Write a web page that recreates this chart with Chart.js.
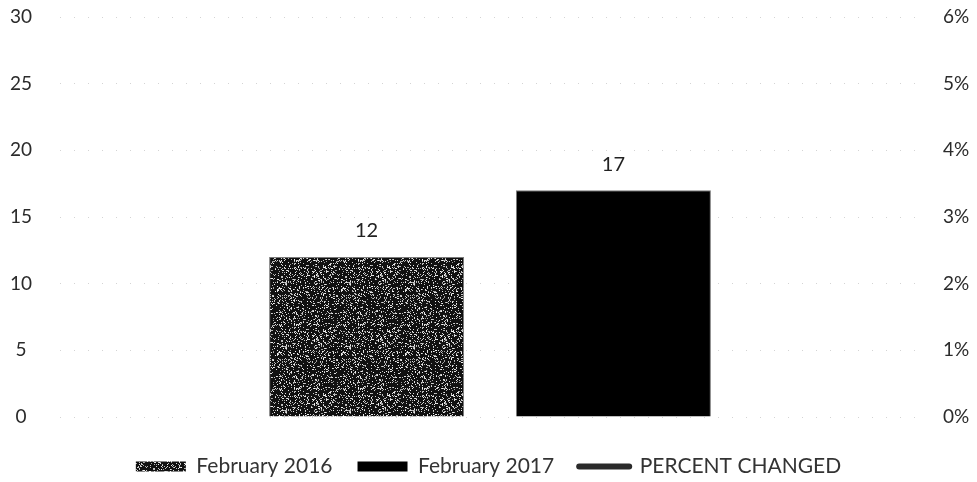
<!DOCTYPE html>
<html>
<head>
<meta charset="utf-8">
<script src="https://cdn.jsdelivr.net/npm/chart.js@4"></script>
<style>
  html, body { margin: 0; padding: 0; background: #fff; }
  #wrap { width: 977px; height: 482px; }
</style>
</head>
<body>
<div id="wrap"><canvas id="chart" width="977" height="482"></canvas></div>
<script>
const categories = ["February"];
const feb2016 = [12];
const feb2017 = [17];
const percentChanged = [null];
const countTicks = [0, 5, 10, 15, 20, 25, 30];
const percentTicks = ["0%", "1%", "2%", "3%", "4%", "5%", "6%"];

const FONT = "Lato, 'Open Sans', sans-serif";

// grainy fill for the 2016 bar: dark base with light specks (fixed seed so it never changes)
function makeGrain() {
  const c = document.createElement("canvas");
  c.width = 64; c.height = 64;
  const g = c.getContext("2d");
  g.fillStyle = "#111";
  g.fillRect(0, 0, 64, 64);
  let s = 1234567;
  const next = () => { s = (s * 1103515245 + 12345) % 2147483648; return s / 2147483648; };
  for (let y = 0; y < 64; y++) {
    for (let x = 0; x < 64; x++) {
      if (next() < 0.2) {
        const v = 150 + Math.floor(next() * 100);
        g.fillStyle = `rgb(${v},${v},${v})`;
        g.fillRect(x, y, 1, 1);
      }
    }
  }
  return g.createPattern(c, "repeat");
}

const ctx = document.getElementById("chart").getContext("2d");
const grain = makeGrain();

// value labels above each bar
const barValues = {
  id: "barValues",
  afterDatasetsDraw(chart) {
    const c = chart.ctx;
    c.save();
    c.font = "20px " + FONT;
    c.fillStyle = "#222";
    c.textAlign = "center";
    c.textBaseline = "middle";
    chart.data.datasets.forEach((ds, i) => {
      if (ds.type === "line") return;
      chart.getDatasetMeta(i).data.forEach((bar, j) => {
        c.fillText(String(ds.data[j]), bar.x, bar.y - 26);
      });
    });
    c.restore();
  }
};

// keep the value axes from adding their own label padding
function fixY(width) {
  return scale => {
    scale.width = width;
    scale.paddingTop = 0;
    scale.paddingBottom = 0;
  };
}

new Chart(ctx, {
  type: "bar",
  data: {
    labels: categories,
    datasets: [
      {
        label: "February 2016",
        data: feb2016,
        backgroundColor: grain,
        borderColor: "#7a7a7a",
        borderWidth: 1,
        yAxisID: "y",
        order: 2
      },
      {
        label: "February 2017",
        data: feb2017,
        backgroundColor: "#000",
        borderColor: "#7a7a7a",
        borderWidth: 1,
        yAxisID: "y",
        order: 2
      },
      {
        type: "line",
        label: "PERCENT CHANGED",
        data: percentChanged,
        borderColor: "#2a2a2a",
        backgroundColor: "#2a2a2a",
        borderWidth: 6,
        borderCapStyle: "round",
        pointRadius: 0,
        yAxisID: "y1",
        order: 1
      }
    ]
  },
  options: {
    responsive: false,
    animation: false,
    layout: { padding: { top: 17, left: 0, right: 0, bottom: -5 } },
    datasets: {
      bar: { categoryPercentage: 0.574, barPercentage: 0.79 }
    },
    plugins: {
      tooltip: { enabled: false },
      legend: {
        position: "bottom",
        labels: {
          font: { family: FONT, size: 21 },
          color: "#333",
          usePointStyle: true,
          pointStyleWidth: 50,
          boxHeight: 10,
          padding: 25,
          sort: (a, b) => a.datasetIndex - b.datasetIndex,
          generateLabels(chart) {
            const items = Chart.defaults.plugins.legend.labels.generateLabels(chart);
            items.forEach(it => {
              if (it.datasetIndex === 2) {
                it.pointStyle = "line";
                it.lineWidth = 6;
                it.lineCap = "round";
              } else {
                it.pointStyle = "rect";
                it.lineWidth = 0;
              }
            });
            return items;
          }
        }
      }
    },
    scales: {
      x: {
        grid: { display: false },
        border: { display: false },
        ticks: { display: false },
        afterFit(scale) { scale.height = 14; }
      },
      y: {
        position: "left",
        min: 0,
        max: 30,
        afterBuildTicks(scale) { scale.ticks = countTicks.map(v => ({ value: v })); },
        grid: { color: "#d4d4d4", lineWidth: 1, drawTicks: false },
        border: { display: false, dash: [1, 13] },
        ticks: {
          font: { family: FONT, size: 19 },
          color: "#2b2b2b",
          crossAlign: "center",
          padding: 28
        },
        afterFit: fixY(60)
      },
      y1: {
        position: "right",
        min: 0,
        max: 6,
        grid: { display: false, drawTicks: false },
        border: { display: false },
        ticks: {
          stepSize: 1,
          font: { family: FONT, size: 19 },
          color: "#2b2b2b",
          crossAlign: "center",
          padding: 23,
          callback: (v, i) => percentTicks[i]
        },
        afterFit: fixY(57)
      }
    }
  },
  plugins: [barValues]
});
</script>
</body>
</html>
